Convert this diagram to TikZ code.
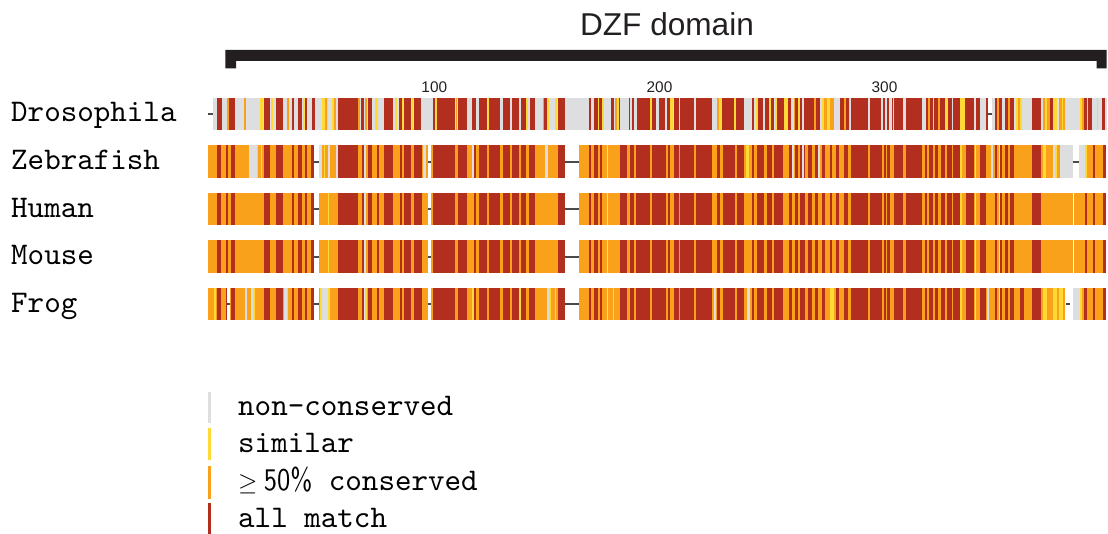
\documentclass[tikz,border=0pt]{standalone}
\usepackage{fontspec}
\usepackage{graphicx}
\newfontfamily\labelsans{Liberation Sans}
\newfontfamily\labelmono{lmmono10-regular}[Extension=.otf]
\newfontfamily\pctsans{lmsans10-regular}[Extension=.otf]
\definecolor{cR}{HTML}{B22F20}
\definecolor{cO}{HTML}{F9A11B}
\definecolor{cY}{HTML}{FFDA36}
\definecolor{cG}{HTML}{DDDEE0}
\definecolor{cW}{HTML}{FFFFFF}
\definecolor{ink}{HTML}{231F20}
\definecolor{gapline}{HTML}{4A4A4A}

% coloured alignment columns: \cells{top}{bottom}{x1/x2/colour,...}
\newcommand\cells[3]{\foreach \a/\b/\c in {#3} {\fill[\c] (\a,#1) rectangle (\b,#2);}}
% same, with the column list held in a macro
\newcommand\cellsof[3]{\foreach \a/\b/\c in #3 {\fill[\c] (\a,#1) rectangle (\b,#2);}}
% alignment gaps: \gapmarks{y}{x1/x2,...}
\newcommand\gapmarks[2]{\foreach \a/\b in {#2} {\draw[gapline, line width=1.7pt] (\a,#1) -- (\b,#1);}}

% conserved columns shared by the vertebrate sequences
\def\vertcols{217.3/221/cR, 226/227.7/cR, 231/235/cR, 264.3/270.3/cR, 276/282.7/cR, 292.3/293.7/cR, 298.3/302.3/cR, 305/306.7/cR, 311/314.3/cR, 327.7/329/cY, 338.3/358.3/cR, 361.7/364.3/cR, 364.3/365.7/cG, 368.3/372.3/cR, 376.7/379/cR, 384.3/393.3/cR, 400/401.7/cR, 404.3/411/cR, 414.3/421.7/cR, 433.3/455.3/cR, 458/467/cR, 473.7/476.3/cR, 478.7/487/cR, 489.3/500.3/cR, 503/509.7/cR, 512/519.3/cR, 521.3/526/cR, 528.7/535.3/cR, 558/565.3/cR, 588.7/591.3/cR, 593.7/597.7/cR, 600/602.3/cR, 607/608/cG, 620.3/627/cR, 630.3/633.7/cR, 636/650.3/cR, 652/666.3/cR, 668/670/cR, 673.7/678.7/cR, 680.3/693.7/cR, 696.3/712/cR, 717/720.3/cR, 723/735.3/cR, 737/744.3/cR, 752/753.7/cR, 757/763.7/cR, 767/772/cR, 774/783/cR, 789/792/cR, 795/798/cR, 800/805/cR, 808/812/cR, 815/818/cR, 822/825/cR, 830/832/cR, 836/839/cR, 844/848/cR, 851/867.7/cR, 870.3/881.7/cR, 884/886/cR, 887.3/890/cR, 894/903.3/cR, 906/921.7/cR, 925/927.3/cR, 929.3/932.7/cR, 935/938.3/cR, 940.7/945/cR, 946.7/951.7/cR, 953.3/960/cR, 960/961.7/cY, 966/974/cR, 974.7/975.7/cG, 980/986/cR, 995/996.7/cR, 999/1000/cG, 1000/1001.7/cR, 1005/1008.3/cR, 1010/1014/cR, 1031.7/1040.7/cR, 1072.7/1073.7/cW, 1085/1086.7/cR, 1093.3/1095/cR, 1103.3/1105.7/cR}

\tikzset{
  seqname/.style={font=\labelmono\fontsize{31.5}{36}\selectfont, anchor=base west, inner sep=0pt},
  legendtext/.style={font=\labelmono\fontsize{31.5}{36}\selectfont, anchor=base west, inner sep=0pt},
  ticklabel/.style={font=\labelsans\fontsize{15.4}{18}\selectfont, anchor=base, inner sep=0pt, text=ink},
  domaintitle/.style={font=\labelsans\fontsize{31.6}{36}\selectfont, anchor=base, inner sep=0pt, text=ink},
}

\begin{document}
\begin{tikzpicture}[x=1pt, y=-1pt]
\useasboundingbox (0,0) rectangle (1108,534);

% domain bracket
\node[domaintitle] (dzf) at (667,36) {DZF domain};
\fill[ink] (225.3,50) -- (1106.7,50) -- (1106.7,68.3) -- (1096.7,68.3) -- (1096.7,61) -- (236,61) -- (236,68.3) -- (225.3,68.3) -- cycle;

% position ruler
\node[ticklabel] (t100) at (434.3,92.6) {100};
\node[ticklabel] (t200) at (659.5,92.6) {200};
\node[ticklabel] (t300) at (884.5,92.6) {300};

% sequence names
\node[seqname] (dros)  at (11,122) {Drosophila};
\node[seqname] (zebra) at (11,169.5) {Zebrafish};
\node[seqname] (human) at (11,217.3) {Human};
\node[seqname] (mouse) at (11,265) {Mouse};
\node[seqname] (frog)  at (11,312.5) {Frog};

% Drosophila
\cells{98}{130.5}{213/987.7/cG, 991.7/1106.7/cG}
\cells{98}{130.5}{217.3/221.7/cR, 227.3/229/cO, 229/235/cR, 244/246/cO, 260/262.7/cY, 264.3/270.3/cR, 271/273/cY, 276/282.7/cR, 287/288.7/cO, 292/293.7/cR, 298.3/302.3/cR, 303.3/305/cY, 305/306.7/cR, 311.7/314.7/cR, 321.7/325/cY, 325/327/cO, 327/328.3/cY, 331.7/334.3/cY, 334.3/335.5/cO, 338.3/358.3/cR, 358.3/360/cO, 360.5/364/cR, 365/366.7/cO, 368.3/372.3/cR, 375/377.7/cY, 384.3/393.3/cR, 395/396.7/cY, 399.3/401.7/cR, 401.7/403.3/cY, 404.3/411/cR, 411.7/413.3/cY, 414/421/cR}
\cells{98}{130.5}{433.3/435.3/cR, 435.3/437/cY, 437/455.3/cR, 456/457.3/cO, 458/467/cR, 472/476.3/cR, 478.7/487/cR, 487.7/489.3/cY, 489.3/500.3/cR, 503/509.7/cR, 512/519.3/cR, 521.3/526/cR, 526.3/528/cY, 530.3/535.3/cR, 542.7/544/cO, 544/547/cR, 547/548.7/cY, 555.3/557/cY, 557.7/565.3/cR, 588.7/591.3/cR, 593.7/597.7/cR, 597.7/599.3/cY, 599.3/602/cR, 602/603.7/cY, 611/613.7/cR, 615.3/617/cO, 617/618.7/cY, 618.7/620.3/cR, 628.7/630.3/cR, 632/633.7/cR, 637/650.3/cR, 650.3/652/cY, 652/656/cR, 658.7/665.3/cR, 667/669.7/cR, 669.7/673/cY, 673.7/678.7/cR, 680.3/693.7/cR, 696.3/712/cR, 717/719/cO, 719/722/cY, 722/733.7/cR, 734/735.7/cY, 735.7/744.3/cR}
\cells{98}{130.5}{752/754/cR, 756/758/cY, 758/763/cR, 764.7/768.7/cR, 768.7/771/cY, 771/773.7/cR, 775.3/777/cY, 777/783.7/cR, 784.3/787.7/cY, 787.7/791/cR, 793.7/795.3/cO, 795.3/797.7/cR, 797.7/799.7/cY, 799.7/802/cR, 804.3/813.7/cR, 813.7/816.3/cO, 816.3/820.3/cR, 822/823.7/cY, 823.7/827/cO, 827/830.3/cY, 830.3/833.7/cO, 839.7/843.7/cR, 844.3/846.3/cO, 846.3/848.7/cR, 848.7/850.3/cY, 851/867.7/cR, 870.3/881/cR, 883/885/cR, 886.7/889/cR, 891.7/893/cR, 894/903.3/cR, 906/921.7/cR, 926/928.3/cR, 928.3/930/cO, 930/932.7/cR, 932.7/934.3/cY, 934.3/938.3/cR, 938.3/940/cO, 940/945/cR, 945/948.3/cY, 948.3/951.7/cR, 953.3/960/cR, 960/965/cY, 965/974/cR, 976/980/cR, 986/987.7/cR}
\cells{98}{130.5}{995/997.3/cR, 997.3/999.3/cO, 999.3/1001.7/cR, 1005/1008.3/cR, 1008.3/1010/cO, 1010/1014/cR, 1016/1018.3/cY, 1018.3/1020/cO, 1020/1021.7/cY, 1031.7/1040.7/cR, 1043.3/1045/cO, 1045/1046.7/cY, 1046.7/1050/cO, 1050/1052.7/cR, 1053.3/1056.7/cY, 1059.3/1061.7/cO, 1061.7/1063.3/cY, 1063.3/1065/cO, 1080/1081.7/cY, 1081.7/1084/cO, 1084/1086.7/cR, 1086.7/1088.3/cY, 1088.3/1091.7/cR, 1096.7/1098.3/cY, 1101.7/1105/cR}
\gapmarks{114.2}{207.5/213, 987.7/991.7}

% Zebrafish
\cells{145.5}{178}{207.7/314.3/cO, 319/427.7/cO, 431/565.3/cO, 578.7/1072.7/cO, 1079.3/1105.7/cO}
\cellsof{145.5}{178}{\vertcols}
\cells{145.5}{178}{249.3/256.7/cG, 256.7/258.3/cY, 261/262.3/cY, 319/321.7/cG, 323.7/325/cY, 328.3/330/cG, 336/338.3/cG, 423.3/426/cG, 472/473.7/cG, 545.3/548/cG, 746.3/748.7/cY, 792/793.7/cG, 802/804.3/cG, 818/820.3/cG, 991/993.3/cG, 1043.3/1046/cY, 1053.3/1055/cG, 1055/1056.7/cY, 1060/1072.7/cG, 1079.3/1085/cG, 1085/1086.7/cY}
\gapmarks{161.7}{314.3/319, 427.7/431, 565.3/578.7, 1072.7/1079.3}

% Human
\cells{193}{225.5}{207.7/314.3/cO, 319/427.7/cO, 431/565.3/cO, 578.7/1105.7/cO}
\cellsof{193}{225.5}{\vertcols}
\gapmarks{209.2}{314.3/319, 427.7/431, 565.3/578.7}

% Mouse
\cells{240.5}{273}{207.7/314.3/cO, 319/427.7/cO, 431/565.3/cO, 578.7/1105.7/cO}
\cellsof{240.5}{273}{\vertcols}
\gapmarks{256.7}{314.3/319, 427.7/431, 565.3/578.7}

% Frog
\cells{288}{320.5}{207.7/226.7/cO, 230/314.3/cO, 319/427.7/cO, 431/565.3/cO, 578.7/1065/cO, 1072.7/1105.7/cO}
\cellsof{288}{320.5}{\vertcols}
\cells{288}{320.5}{226.7/230/cW, 214/215.7/cY, 245/247/cG, 251/253.3/cG, 253.3/255/cY, 284/286.7/cG, 286.7/288/cY, 320/321.7/cY, 322/327.7/cG, 327.7/330/cY, 365/367.3/cY, 472/474/cY, 519.3/521.3/cY, 547/549.3/cG, 549.3/551.3/cY, 554.7/556/cY, 612.7/614.3/cY, 714.3/716.3/cG, 747/749.7/cG, 830.3/833.7/cY, 987.3/988.7/cG, 1020/1024/cR, 1043.3/1046.7/cY, 1053.3/1056.7/cY, 1059.3/1062.7/cY, 1072.7/1080/cG, 1080/1081.7/cY, 1084/1086.7/cR}
\gapmarks{304.2}{226.7/230, 314.3/319, 427.7/431, 565.3/578.7, 1066/1070}

% legend
\fill[cG] (208,392) rectangle (211,423);
\fill[cY] (208,428) rectangle (211,460);
\fill[cO] (208,466) rectangle (211,499);
\fill[cR] (208,503) rectangle (211,534);
\node[legendtext] (lg1) at (238,415) {non-conserved};
\node[legendtext] (lg2) at (238,452.6) {similar};
\node[legendtext] (lg3) at (238,490) {$\geq$\hspace{0.2em}{\pctsans\scalebox{0.84}[1]{50\%}} conserved};
\node[legendtext] (lg4) at (238,527) {all match};
\end{tikzpicture}
\end{document}
